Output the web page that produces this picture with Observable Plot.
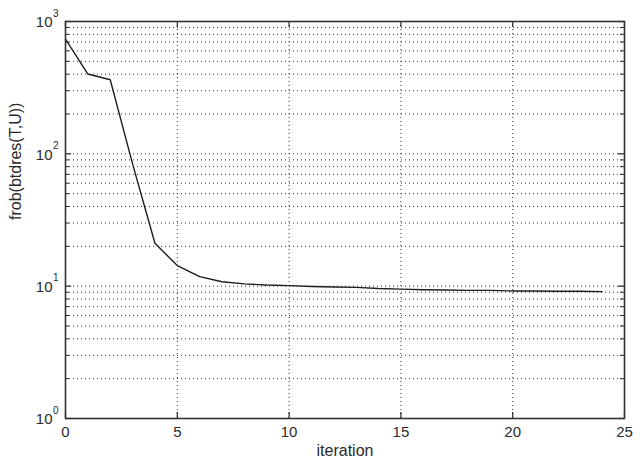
<!DOCTYPE html>
<html>
<head>
<meta charset="utf-8">
<script src="https://cdn.jsdelivr.net/npm/d3@7"></script>
<script src="https://cdn.jsdelivr.net/npm/@observablehq/plot@0.6"></script>
<style>
  html, body { margin: 0; padding: 0; background: #fff; }
  #chart svg { display: block; }
</style>
</head>
<body>
<div id="chart"></div>
<script>
// Data (MATLAB-style semilog plot)
const iterations = [0,1,2,3,4,5,6,7,8,9,10,11,12,13,14,15,16,17,18,19,20,21,22,23,24];
const frobValues = [736,401,363,84,21.1,14.3,11.8,10.8,10.4,10.2,10.1,9.95,9.85,9.8,9.6,9.5,9.4,9.35,9.3,9.3,9.2,9.2,9.15,9.15,9.1];
const xTicks = [0,5,10,15,20,25];
const xGrid = [5,10,15,20];
const yMajor = [1,10,100,1000];
const yExponents = ["0","1","2","3"];
const yMinor = [2,3,4,5,6,7,8,9,20,30,40,50,60,70,80,90,200,300,400,500,600,700,800,900];
const xLabel = "iteration";
const yLabel = "frob(btdres(T,U))";

const W = 640, H = 458;
const mL = 65, mR = 16, mT = 21, mB = 40;
const plotW = W - mL - mR, plotH = H - mT - mB;
const series = iterations.map((x, i) => ({x, y: frobValues[i]}));
const font = "Liberation Sans, Arial, Helvetica, sans-serif";
const ink = "#2a2a2a";
const dots = {stroke: "#333", strokeWidth: 1, strokeDasharray: "1,3"};

const chart = Plot.plot({
  width: W, height: H,
  marginLeft: mL, marginRight: mR, marginTop: mT, marginBottom: mB,
  style: {fontFamily: font, background: "#fff", color: ink},
  x: {domain: [0, 25], axis: null},
  y: {type: "log", domain: [1, 1000], axis: null},
  marks: [
    // dotted grid
    Plot.ruleY(yMinor.concat([10, 100]), dots),
    Plot.ruleX(xGrid, dots),
    // inner tick marks, left & right
    Plot.ruleY(yMajor, {stroke: ink, strokeWidth: 1.2, insetRight: plotW - 6}),
    Plot.ruleY(yMajor, {stroke: ink, strokeWidth: 1.2, insetLeft: plotW - 6}),
    Plot.ruleY(yMinor, {stroke: ink, strokeWidth: 1, insetRight: plotW - 4}),
    Plot.ruleY(yMinor, {stroke: ink, strokeWidth: 1, insetLeft: plotW - 4}),
    // inner tick marks, bottom & top
    Plot.ruleX(xTicks, {stroke: ink, strokeWidth: 1.2, insetTop: plotH - 6}),
    Plot.ruleX(xTicks, {stroke: ink, strokeWidth: 1.2, insetBottom: plotH - 6}),
    // data line
    Plot.line(series, {x: "x", y: "y", stroke: "#1e1e1e", strokeWidth: 1.4}),
    // frame
    Plot.frame({stroke: "#333", strokeWidth: 1.6}),
    // x tick labels
    Plot.text(xTicks, {x: d => d, frameAnchor: "bottom", dy: 14, text: d => String(d),
      fontSize: 15, fill: ink, lineAnchor: "middle"}),
    // y tick labels: "10" with superscript exponent
    Plot.text(yMajor, {y: d => d, frameAnchor: "left", dx: -13, dy: 1, text: () => "10",
      fontSize: 15, fill: ink, textAnchor: "end", lineAnchor: "middle"}),
    Plot.text(yMajor, {y: d => d, frameAnchor: "left", dx: -12.5, dy: -8, text: (d, i) => yExponents[i],
      fontSize: 10, fill: ink, textAnchor: "start", lineAnchor: "middle"}),
    // axis titles
    Plot.text([xLabel], {frameAnchor: "bottom", dy: 32, text: d => d,
      fontSize: 16, fill: ink, lineAnchor: "middle"}),
    Plot.text([yLabel], {frameAnchor: "left", dx: -50, rotate: -90, text: d => d,
      fontSize: 16, fill: ink, lineAnchor: "middle"})
  ]
});
document.getElementById("chart").append(chart);
</script>
</body>
</html>
